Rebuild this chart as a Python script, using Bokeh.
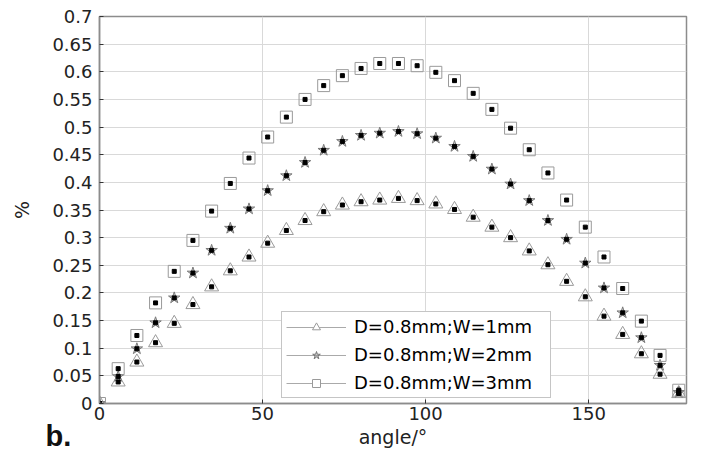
from bokeh.plotting import figure
from bokeh.models import (ColumnDataSource, FixedTicker, Range1d,
                          Legend, LegendItem, Label)
from bokeh.embed import file_html
from bokeh.resources import INLINE

# ---------------- data ----------------
ANGLE = [0, 5.73, 11.46, 17.19, 22.92, 28.65, 34.38, 40.11, 45.84, 51.57,
         57.30, 63.03, 68.75, 74.48, 80.21, 85.94, 91.67, 97.40, 103.13, 108.86,
         114.59, 120.32, 126.05, 131.78, 137.51, 143.24, 148.97, 154.70, 160.43,
         166.16, 171.89, 177.62]
W1MM = [0, 0.039, 0.075, 0.110, 0.145, 0.179, 0.211, 0.240, 0.265, 0.290,
        0.313, 0.331, 0.347, 0.359, 0.365, 0.368, 0.371, 0.367, 0.361, 0.351,
        0.337, 0.319, 0.300, 0.276, 0.251, 0.221, 0.193, 0.158, 0.125, 0.090,
        0.053, 0.018]
W2MM = [0, 0.049, 0.099, 0.146, 0.191, 0.236, 0.277, 0.317, 0.352, 0.385,
        0.412, 0.436, 0.458, 0.474, 0.485, 0.489, 0.492, 0.488, 0.480, 0.465,
        0.447, 0.424, 0.397, 0.367, 0.331, 0.297, 0.254, 0.209, 0.164, 0.119,
        0.069, 0.020]
W3MM = [0, 0.063, 0.123, 0.182, 0.239, 0.295, 0.348, 0.398, 0.444, 0.482,
        0.518, 0.550, 0.575, 0.593, 0.606, 0.615, 0.615, 0.611, 0.599, 0.584,
        0.561, 0.532, 0.498, 0.459, 0.417, 0.368, 0.319, 0.265, 0.208, 0.149,
        0.087, 0.024]
SERIES_NAMES = ["D=0.8mm;W=1mm", "D=0.8mm;W=2mm", "D=0.8mm;W=3mm"]

XTICKS = [0, 50, 100, 150]
YTICKS = [0, 0.05, 0.1, 0.15, 0.2, 0.25, 0.3, 0.35, 0.4, 0.45, 0.5, 0.55,
          0.6, 0.65, 0.7]
YTICK_LABELS = ["0", "0.05", "0.1", "0.15", "0.2", "0.25", "0.3", "0.35",
                "0.4", "0.45", "0.5", "0.55", "0.6", "0.65", "0.7"]
X_LABEL = "angle/°"
Y_LABEL = "%"
PANEL_TAG = "b."

FONT = "DejaVu Sans"
GRAY_EDGE = "#9a9a9a"

p = figure(width=718, height=453, output_backend="svg", toolbar_location=None,
           x_range=Range1d(0, 180), y_range=Range1d(0, 0.7),
           min_border_left=99, min_border_right=32, min_border_top=16,
           min_border_bottom=50, background_fill_color="white",
           border_fill_color="white")

p.outline_line_color = "#8c8c8c"
p.outline_line_width = 1.5

# axes
p.xaxis.ticker = FixedTicker(ticks=XTICKS)
p.yaxis.ticker = FixedTicker(ticks=YTICKS)
p.yaxis.major_label_overrides = {t: s for t, s in zip(YTICKS, YTICK_LABELS)}
p.xaxis.axis_label = X_LABEL
p.yaxis.axis_label = Y_LABEL

for ax in [p.xaxis[0], p.yaxis[0]]:
    ax.axis_line_color = "#8c8c8c"
    ax.axis_line_width = 1.5
    ax.major_tick_in = 4
    ax.major_tick_out = 0
    ax.major_tick_line_color = "#333333"
    ax.minor_tick_line_color = None
    ax.major_label_text_font = FONT
    ax.major_label_text_font_size = "18px"
    ax.major_label_text_color = "#222222"
    ax.axis_label_text_font = FONT
    ax.axis_label_text_font_size = "19px"
    ax.axis_label_text_font_style = "normal"
    ax.axis_label_text_color = "#222222"

p.xaxis.major_label_standoff = 3
p.xaxis.axis_label_standoff = 3
p.yaxis.major_label_standoff = 7
p.yaxis.axis_label_standoff = 16

# grid
p.xgrid.ticker = FixedTicker(ticks=XTICKS)
p.ygrid.ticker = FixedTicker(ticks=YTICKS)
for g in (p.xgrid[0], p.ygrid[0]):
    g.grid_line_color = "#d9d9d9"
    g.grid_line_width = 1

src = ColumnDataSource(dict(angle=ANGLE, w1=W1MM, w2=W2MM, w3=W3MM))

# series markers
p.scatter("angle", "w1", source=src, marker="triangle", size=14,
          fill_color=None, line_color=GRAY_EDGE, line_width=1)
p.scatter("angle", "w2", source=src, marker="star", size=12,
          fill_color="#8a8a8a", fill_alpha=0.4, line_color="#7a7a7a",
          line_width=1)
p.scatter("angle", "w3", source=src, marker="square", size=12,
          fill_color=None, line_color=GRAY_EDGE, line_width=1)
for col in ("w1", "w2", "w3"):
    p.scatter("angle", col, source=src, marker="square", size=4,
              fill_color="black", line_color="black")

# legend proxies: all-NaN values, so nothing is drawn in the plot area
nan_src = ColumnDataSource(dict(angle=ANGLE, none=[float("nan")] * len(ANGLE)))
styles = [dict(marker="triangle", size=14, fill_color="white", line_color=GRAY_EDGE),
          dict(marker="star", size=11, fill_color="#8a8a8a", fill_alpha=0.45,
               line_color="#777777"),
          dict(marker="square", size=12, fill_color="white", line_color=GRAY_EDGE)]
items = []
for name, st in zip(SERIES_NAMES, styles):
    lr = p.line("angle", "none", source=nan_src, line_color="#aaaaaa", line_width=1)
    sr = p.scatter("angle", "none", source=nan_src, **st)
    items.append(LegendItem(label=name, renderers=[lr, sr]))

legend = Legend(items=items, location=(182, 5),
                label_text_font=FONT, label_text_font_size="18px",
                label_text_color="black", glyph_width=60, glyph_height=20,
                label_height=20, label_width=192, spacing=7, padding=4,
                label_standoff=8,
                border_line_color="#8c8c8c", border_line_width=1,
                background_fill_color="white", background_fill_alpha=1.0)
p.add_layout(legend, "center")

# panel tag: lives in the (otherwise empty) right side panel so it is not
# clipped by the frame; offsets are relative to that panel
p.add_layout(Label(x=-641, y=-32, x_units="screen", y_units="screen",
                   text=PANEL_TAG, text_font="Liberation Sans",
                   text_font_style="bold", text_font_size="29px",
                   text_baseline="alphabetic", text_color="#111111"), "right")

open("out.html", "w").write(file_html(p, INLINE))
